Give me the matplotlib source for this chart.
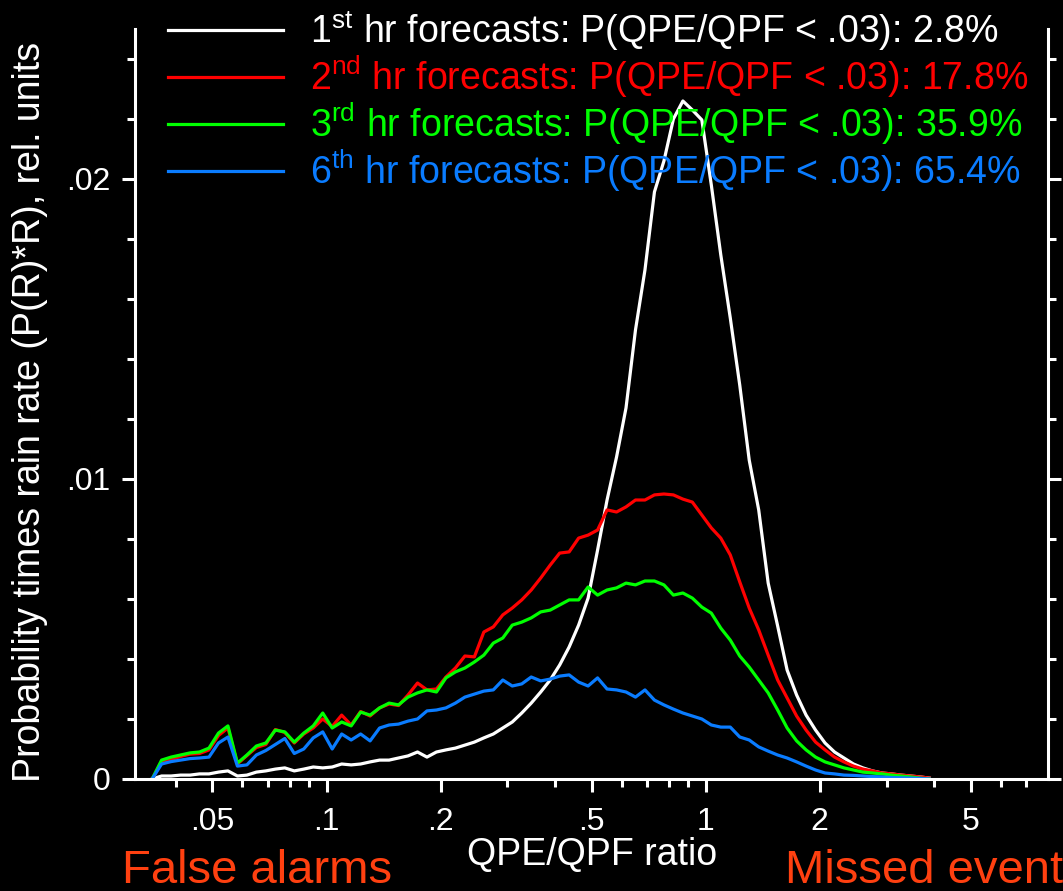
import numpy as np
import matplotlib
matplotlib.use('Agg')
import matplotlib.pyplot as plt

plt.rcParams['font.family'] = ['Liberation Sans', 'DejaVu Sans']
plt.rcParams['mathtext.fontset'] = 'custom'
plt.rcParams['mathtext.rm'] = 'Liberation Sans'

# QPE/QPF ratio bins (log spaced), values in units of 1e-3
ratio = np.logspace(-1.46, 0.59, 83)

hr1 = [0.0, 0.10, 0.10, 0.13, 0.13, 0.17, 0.17, 0.23, 0.27, 0.10,
       0.13, 0.23, 0.27, 0.33, 0.37, 0.27, 0.33, 0.40, 0.37, 0.40,
       0.50, 0.47, 0.50, 0.57, 0.63, 0.63, 0.70, 0.77, 0.90, 0.73,
       0.90, 0.97, 1.03, 1.13, 1.23, 1.37, 1.50, 1.70, 1.90, 2.20,
       2.53, 2.90, 3.30, 3.80, 4.40, 5.13, 6.03, 7.63, 9.30, 10.73,
       12.37, 14.97, 16.97, 19.57, 20.60, 22.00, 22.60, 22.30, 21.97, 19.80,
       17.47, 15.37, 13.13, 10.63, 8.97, 6.53, 5.10, 3.63, 2.80, 2.13,
       1.63, 1.20, 0.90, 0.70, 0.50, 0.37, 0.27, 0.20, 0.17, 0.13,
       0.10, 0.07, 0.03]

hr2 = [0.0, 0.55, 0.65, 0.75, 0.83, 0.85, 0.97, 1.45, 1.70, 0.50,
       0.78, 1.05, 1.15, 1.65, 1.55, 1.20, 1.50, 1.70, 2.00, 1.75,
       2.13, 1.80, 2.25, 2.10, 2.37, 2.50, 2.45, 2.80, 3.20, 2.97,
       3.00, 3.40, 3.70, 4.10, 4.07, 4.90, 5.07, 5.47, 5.70, 5.97,
       6.30, 6.70, 7.13, 7.53, 7.57, 8.03, 8.13, 8.30, 8.97, 8.90,
       9.07, 9.30, 9.30, 9.47, 9.50, 9.47, 9.33, 9.23, 8.80, 8.37,
       8.03, 7.47, 6.57, 5.70, 4.97, 4.13, 3.30, 2.70, 2.10, 1.63,
       1.23, 0.97, 0.73, 0.57, 0.43, 0.33, 0.27, 0.20, 0.17, 0.13,
       0.10, 0.07, 0.03]

hr3 = [0.0, 0.63, 0.73, 0.80, 0.87, 0.90, 1.03, 1.53, 1.77, 0.53,
       0.80, 1.10, 1.20, 1.63, 1.57, 1.23, 1.53, 1.77, 2.20, 1.70,
       1.90, 1.77, 2.23, 2.13, 2.37, 2.53, 2.47, 2.73, 2.87, 2.97,
       2.90, 3.37, 3.57, 3.70, 3.90, 4.13, 4.53, 4.70, 5.13, 5.23,
       5.37, 5.57, 5.63, 5.80, 5.97, 5.97, 6.40, 6.13, 6.30, 6.37,
       6.53, 6.47, 6.60, 6.60, 6.47, 6.13, 6.20, 6.03, 5.73, 5.53,
       5.03, 4.63, 4.10, 3.73, 3.30, 2.87, 2.30, 1.70, 1.27, 0.97,
       0.73, 0.57, 0.47, 0.37, 0.30, 0.23, 0.20, 0.17, 0.13, 0.10,
       0.07, 0.03, 0.0]

hr6 = [0.0, 0.50, 0.58, 0.63, 0.68, 0.70, 0.73, 1.20, 1.40, 0.43,
       0.47, 0.80, 0.95, 1.15, 1.35, 0.85, 1.00, 1.37, 1.57, 1.00,
       1.50, 1.30, 1.50, 1.27, 1.70, 1.80, 1.83, 1.93, 2.00, 2.27,
       2.30, 2.37, 2.53, 2.73, 2.83, 2.93, 2.97, 3.30, 3.10, 3.17,
       3.40, 3.27, 3.33, 3.43, 3.47, 3.23, 3.10, 3.37, 3.00, 2.97,
       2.90, 2.73, 2.97, 2.63, 2.47, 2.33, 2.20, 2.10, 2.00, 1.80,
       1.73, 1.73, 1.40, 1.30, 1.07, 0.93, 0.80, 0.70, 0.57, 0.43,
       0.30, 0.20, 0.17, 0.13, 0.12, 0.10, 0.08, 0.07, 0.05, 0.04,
       0.03, 0.02, 0.0]

labels = [r'1$^{\rm st}$ hr forecasts: P(QPE/QPF < .03): 2.8%',
          r'2$^{\rm nd}$ hr forecasts: P(QPE/QPF < .03): 17.8%',
          r'3$^{\rm rd}$ hr forecasts: P(QPE/QPF < .03): 35.9%',
          r'6$^{\rm th}$ hr forecasts: P(QPE/QPF < .03): 65.4%']
colors = ['white', '#ff0000', '#00ff00', '#0a7cff']

xticks = [0.05, 0.1, 0.2, 0.5, 1, 2, 5]
xticklabels = ['.05', '.1', '.2', '.5', '1', '2', '5']
xminor = [0.04, 0.06, 0.07, 0.08, 0.09, 0.3, 0.4, 0.6, 0.7, 0.8, 0.9, 3, 4, 6, 7]
yticks = [0, 0.01, 0.02]
yticklabels = ['0', '.01', '.02']

fig = plt.figure(figsize=(10.63, 8.91), dpi=100, facecolor='black')
ax = fig.add_axes([135/1063, 112/891, 913/1063, 750/891])
ax.set_facecolor('black')

for series, lab, col in zip([hr1, hr2, hr3, hr6], labels, colors):
    ax.plot(ratio, np.array(series)*1e-3, color=col, lw=2.3, label=lab)

ax.set_xscale('log')
ax.set_xlim(1/32, 8)
ax.set_ylim(0, 0.025)
ax.set_xticks(xticks)
ax.set_xticklabels(xticklabels)
ax.set_xticks(xminor, minor=True)
ax.set_xticklabels([], minor=True)
ax.set_yticks(yticks)
ax.set_yticklabels(yticklabels)
ax.set_yticks(np.arange(0, 0.0245, 0.002), minor=True)

for s in ['left', 'right', 'bottom']:
    ax.spines[s].set_color('white')
    ax.spines[s].set_linewidth(2.2)
ax.spines['top'].set_visible(False)

ax.tick_params(which='both', direction='out', colors='white', width=2.2, right=True)
ax.tick_params(which='major', length=9.5, labelsize=23)
ax.tick_params(which='minor', length=6)
ax.tick_params(axis='x', which='major', pad=11)
ax.tick_params(axis='y', which='major', pad=8)

ax.set_xlabel('QPE/QPF ratio', color='white', fontsize=27)
ax.xaxis.set_label_coords(0.5005, -0.078)
ax.set_ylabel('Probability times rain rate (P(R)*R), rel. units', color='white',
              fontsize=27, va='center', ha='center')
ax.yaxis.set_label_coords(-0.115, 0.49)

ax.legend(loc='upper left', bbox_to_anchor=(168/1063, 1 - 8/891),
          bbox_transform=fig.transFigure, frameon=False, fontsize=27,
          handlelength=3.07, handletextpad=0.72, labelspacing=0.02,
          borderaxespad=0, borderpad=0, labelcolor='linecolor')

fig.text(122/1063, 8/891, 'False alarms', color='#ff4010', fontsize=34)
fig.text(785/1063, 8/891, 'Missed event', color='#ff4010', fontsize=34)

fig.savefig('out.png', dpi=100, facecolor='black')
